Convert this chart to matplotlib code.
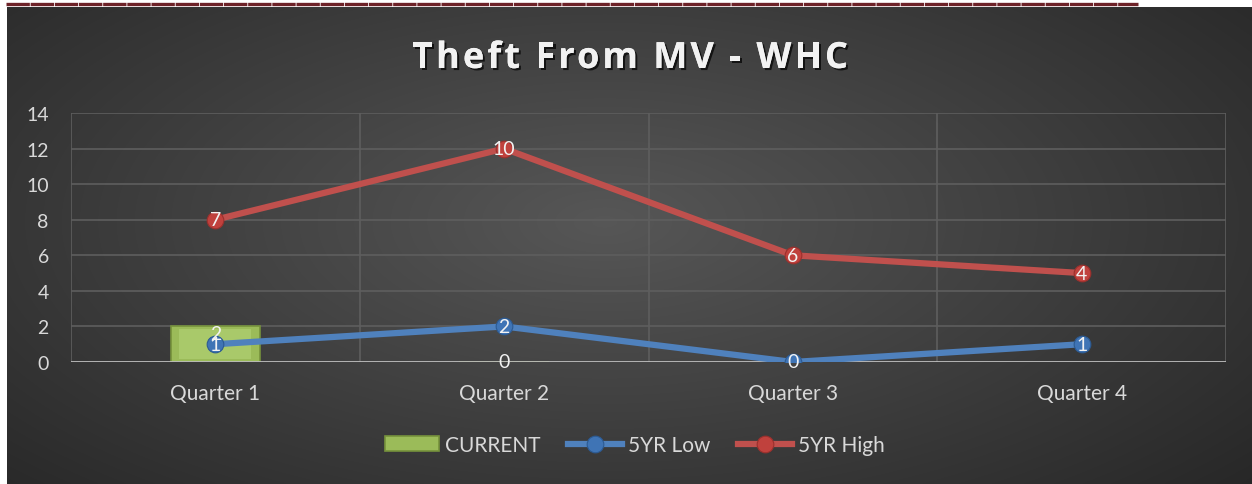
import numpy as np
import matplotlib
matplotlib.use("Agg")
import matplotlib.pyplot as plt
import matplotlib.patheffects as pe

# data
quarters = ["Quarter 1", "Quarter 2", "Quarter 3", "Quarter 4"]
current = [2, 0, np.nan, np.nan]
low_5yr = [1, 2, 0, 1]
high_5yr = [7, 10, 6, 4]   # stacked on top of 5YR Low in the chart
title = 'Theft From MV - WHC'

plt.rcParams['font.family'] = ['Lato', 'DejaVu Sans']
txt_col = '#d9d9d9'

fig = plt.figure(figsize=(12.52, 4.85), dpi=100)
fig.patch.set_facecolor('white')

# dashed dark red rule at very top
fig.add_artist(plt.Line2D([6 / 1252, 1138 / 1252], [1 - 4.5 / 485] * 2,
                          color='#6d2228', lw=2.4, dashes=(7, 0.25),
                          solid_capstyle='butt', dash_capstyle='butt',
                          transform=fig.transFigure))

# dark radial gradient background
bg = fig.add_axes([7 / 1252, 0, 1 - 7 / 1252, 1 - 8 / 485])
yy, xx = np.mgrid[0:1:300j, 0:1:600j]
r = np.sqrt(((xx - 0.48) / 0.75) ** 2 + ((yy - 0.45) / 0.9) ** 2)
shade = np.clip(0.34 - 0.2 * r, 0.14, 0.34)
bg.imshow(np.dstack([shade] * 3), aspect='auto', extent=[0, 1, 0, 1],
          interpolation='bilinear')
bg.axis('off')

ax = fig.add_axes([71 / 1252, 1 - 363 / 485, 1155 / 1252, 249 / 485])
ax.set_facecolor('none')
x = np.arange(len(quarters))

ax.set_xlim(-0.5, 3.5)
ax.set_ylim(0, 14)
ax.set_yticks(range(0, 15, 2))
ax.set_xticks(x)
ax.set_xticklabels(quarters)
for yv in range(2, 15, 2):
    ax.axhline(yv, color='#5e5e5e', lw=1.2, zorder=0)
for xv in [-0.5, 0.5, 1.5, 2.5, 3.5]:
    ax.axvline(xv, color='#5e5e5e', lw=1.2, zorder=0)
for s in ax.spines.values():
    s.set_visible(False)
ax.axhline(0, color='#bfbfbf', lw=2, zorder=2.5)
ax.tick_params(length=0, colors=txt_col)
ax.tick_params(axis='y', pad=16, labelsize=14)
ax.tick_params(axis='x', pad=15, labelsize=15)

bars = ax.bar(x, current, width=0.31, color='#9bbb59', edgecolor='#76923c',
              lw=1.2, zorder=2, label='CURRENT')
# small bevel highlight
ax.bar(x, [c - 0.3 if c > 0 else np.nan for c in current], width=0.25,
       bottom=0.15, color='#a9c96a', lw=0, zorder=2)

stack_high = [l + h for l, h in zip(low_5yr, high_5yr)]
ax.plot(x, low_5yr, color='#4f81bd', lw=4.5, marker='o', ms=12,
        mfc='#3f74b5', mec='#2c5a92', mew=0.8, zorder=3, label='5YR Low')
ax.plot(x, stack_high, color='#c0504d', lw=4.5, marker='o', ms=12,
        mfc='#c0413d', mec='#9a302d', mew=0.8, zorder=3, label='5YR High')

lab_kw = dict(ha='center', va='center', color='#f2f2f2', fontsize=14, zorder=5)
for xi, c in zip(x, current):
    if not np.isnan(c):
        ax.text(xi, c / 2 + (0.6 if c else 0.05), str(int(c)), **lab_kw)
for xi, v in zip(x, low_5yr):
    ax.text(xi, v, str(v), **lab_kw)
for xi, v, h in zip(x, stack_high, high_5yr):
    ax.text(xi, v, str(h), **lab_kw)

# title with extra letter spacing, laid out char by char
tkw = dict(color='#f2f2f2', fontsize=26, fontweight='bold',
           family=['Open Sans', 'DejaVu Sans'], va='center', ha='left',
           path_effects=[pe.withSimplePatchShadow(offset=(1.5, -1.5),
                                                  shadow_rgbFace='black',
                                                  alpha=0.7), pe.Normal()])
rend = fig.canvas.get_renderer()
def text_w(s):
    t = fig.text(0, 0, s, **tkw)
    w = t.get_window_extent(rend).width
    t.remove()
    return w
extra = 3.0
total = text_w(title) + extra * (len(title) - 1)
x0 = 630 - total / 2
for i, ch in enumerate(title):
    if ch == ' ':
        continue
    left = text_w(title[:i + 1]) - text_w(ch) + extra * i
    fig.text((x0 + left) / 1252, 1 - 60 / 485, ch, **tkw)

leg = fig.legend(handles=[bars, ax.lines[-2], ax.lines[-1]], loc='center',
                 bbox_to_anchor=(635 / 1252, 1 - 446 / 485), ncol=3,
                 frameon=False, fontsize=15, handlelength=2.6,
                 handletextpad=0.3, columnspacing=1.3)
for t in leg.get_texts():
    t.set_color(txt_col)

fig.savefig('out.png', dpi=100)
